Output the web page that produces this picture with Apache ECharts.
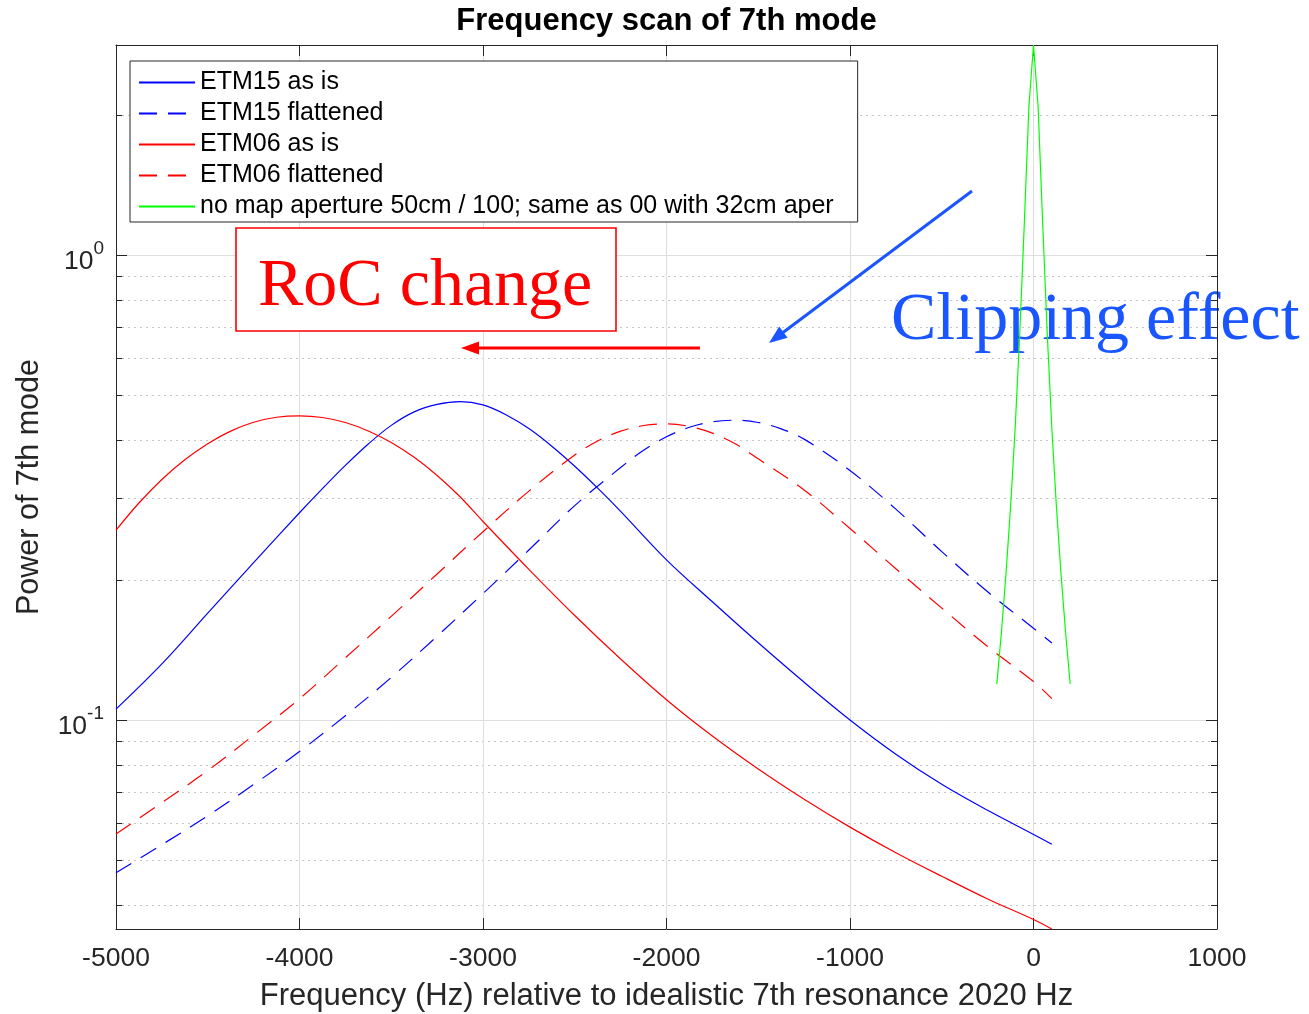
<!DOCTYPE html>
<html>
<head>
<meta charset="utf-8">
<title>Frequency scan of 7th mode</title>
<script src="https://cdn.jsdelivr.net/npm/echarts@6/dist/echarts.min.js"></script>
<style>
  html, body { margin: 0; padding: 0; background: #fff; }
  #chart { width: 1309px; height: 1014px; }
</style>
</head>
<body>
<div id="chart"></div>
<script>
// Frequency offsets (Hz) relative to the idealistic 7th resonance at 2020 Hz,
// with the power of the 7th mode at each offset, one pair of arrays per map.
const etm15AsIsHz = [-5000, -4750, -4500, -4250, -4000, -3875, -3750, -3625, -3500, -3375, -3250, -3125, -3000,
                     -2875, -2750, -2625, -2500, -2375, -2250, -2000, -1750, -1500, -1250, -1000, -750, -500, -250, 0, 100];
const etm15AsIs   = [0.1055, 0.132, 0.1697, 0.218, 0.279, 0.3144, 0.3528, 0.3923, 0.4301, 0.4599, 0.4772, 0.4838, 0.476,
                     0.4534, 0.4233, 0.3879, 0.3512, 0.3151, 0.281, 0.221, 0.1795, 0.1465, 0.1205, 0.1, 0.0844, 0.0727, 0.0639, 0.0567, 0.054];

const etm15FlatHz = [-5000, -4750, -4500, -4250, -4000, -3750, -3500, -3250, -3000, -2750, -2500, -2250,
                     -2125, -2000, -1875, -1750, -1625, -1500, -1375, -1250, -1000, -750, -500, -250, 0, 100];
const etm15Flat   = [0.0469, 0.0539, 0.0622, 0.0726, 0.0855, 0.1021, 0.1234, 0.1514, 0.187, 0.232, 0.289, 0.349,
                     0.3803, 0.4065, 0.4261, 0.4377, 0.4412, 0.4362, 0.4228, 0.4018, 0.344, 0.284, 0.2302, 0.1886, 0.1575, 0.1464];

const etm06AsIsHz = [-5000, -4875, -4750, -4625, -4500, -4375, -4250, -4125, -4000, -3875, -3750, -3625, -3500,
                     -3375, -3250, -3125, -3000, -2750, -2500, -2250, -2000, -1750, -1500, -1250, -1000, -750, -500, -250, 0, 100];
const etm06AsIs   = [0.256, 0.2928, 0.329, 0.3628, 0.3929, 0.418, 0.4367, 0.4477, 0.451, 0.4472, 0.4362, 0.4184, 0.3952,
                     0.3671, 0.3356, 0.302, 0.2672, 0.2108, 0.1677, 0.1352, 0.1105, 0.0923, 0.0784, 0.0675, 0.0588, 0.0518, 0.0461, 0.0412, 0.0372, 0.0355];

const etm06FlatHz = [-5000, -4750, -4500, -4250, -4000, -3750, -3500, -3250, -3000, -2750, -2500, -2375, -2250,
                     -2125, -2000, -1875, -1750, -1625, -1500, -1250, -1000, -750, -500, -250, 0, 100];
const etm06Flat   = [0.0568, 0.0664, 0.0778, 0.0927, 0.111, 0.136, 0.167, 0.206, 0.254, 0.3105, 0.3715, 0.3981, 0.4179,
                     0.4298, 0.4332, 0.4278, 0.414, 0.3925, 0.3645, 0.3124, 0.258, 0.2114, 0.174, 0.1438, 0.1209, 0.1111];

// Reference case without map (aperture only), sampled around the resonance
const noMapHz    = [-200, -175, -150, -125, -100, -75, -50, -25, 0, 25, 50, 75, 100, 125, 150, 175, 200];
const noMapPower = [0.1195, 0.154, 0.206, 0.287, 0.424, 0.676, 1.171, 2.09, 2.83, 2.09,
                    1.171, 0.676, 0.424, 0.287, 0.206, 0.154, 0.1195];

// Axis ticks
const xTickStep = 1000;
const xRange = [-5000, 1000];
const yMajorTicks = [0.1, 1];
const yMinorTicks = [0.04, 0.05, 0.06, 0.07, 0.08, 0.09, 0.2, 0.3, 0.4, 0.5, 0.6, 0.7, 0.8, 0.9, 2];

const seriesNames = [
  'ETM15 as is',
  'ETM15 flattened',
  'ETM06 as is',
  'ETM06 flattened',
  'no map aperture 50cm / 100; same as 00 with 32cm aper'
];

const SANS = '"Liberation Sans", Arial, Helvetica, sans-serif';
const SERIF = '"Liberation Serif", "Times New Roman", serif';
const AXIS_COLOR = '#262626';
const GRID_COLOR = '#dedede';
const MINOR_GRID_COLOR = '#c6c6c6';
const BLUE = '#0000ff', RED = '#ff0000', GREEN = '#00ff00';
const NOTE_BLUE = '#1a56ff';
const DASH = [18, 11];

const pairs = (xs, ys) => xs.map((x, i) => [x, ys[i]]);
const allPower = [].concat(etm15AsIs, etm15Flat, etm06AsIs, etm06Flat, noMapPower);
const yMin = Math.min.apply(null, allPower);
const yMax = Math.max.apply(null, allPower);

function powerLabel(v) {
  const e = Math.round(Math.log10(v));
  return '{b|10}{s|' + e + '}';
}

function logAxis(position, extra) {
  return Object.assign({
    type: 'log',
    logBase: 10,
    min: yMin,
    max: yMax,
    position: position,
    axisLine: { show: false, onZero: false },
    axisTick: { show: false },
    axisLabel: { show: false },
    splitLine: { show: false },
    minorTick: { show: false },
    minorSplitLine: { show: false }
  }, extra);
}

function line(name, xs, ys, color, dashed) {
  return {
    name: name,
    type: 'line',
    xAxisIndex: 0,
    yAxisIndex: 0,
    data: pairs(xs, ys),
    symbol: 'none',
    showSymbol: false,
    smooth: 0.35,
    z: 3,
    lineStyle: { color: color, width: 1.2, type: dashed ? DASH : 'solid' },
    itemStyle: { color: color }
  };
}

const chart = echarts.init(document.getElementById('chart'), null, { renderer: 'canvas' });

chart.setOption({
  animation: false,
  backgroundColor: '#fff',
  grid: { left: 116, top: 45, right: 92, bottom: 85, containLabel: false, outerBoundsMode: 'none' },
  xAxis: [
    {
      type: 'value',
      position: 'bottom',
      min: xRange[0], max: xRange[1], interval: xTickStep,
      axisLine: { show: true, onZero: false, lineStyle: { color: AXIS_COLOR, width: 1 } },
      axisTick: { show: true, inside: true, length: 11, lineStyle: { color: AXIS_COLOR, width: 1 } },
      axisLabel: { show: true, margin: 16, fontFamily: SANS, fontSize: 26.5, color: AXIS_COLOR,
                   formatter: v => String(v) },
      splitLine: { show: true, lineStyle: { color: GRID_COLOR, width: 1 } },
      name: 'Frequency (Hz) relative to idealistic 7th resonance 2020 Hz',
      nameLocation: 'middle',
      nameGap: 52,
      nameTextStyle: { fontFamily: SANS, fontSize: 31, color: AXIS_COLOR }
    },
    {
      type: 'value',
      position: 'top',
      min: xRange[0], max: xRange[1], interval: xTickStep,
      axisLine: { show: true, onZero: false, lineStyle: { color: AXIS_COLOR, width: 1 } },
      axisTick: { show: true, inside: true, length: 11, lineStyle: { color: AXIS_COLOR, width: 1 } },
      axisLabel: { show: false },
      splitLine: { show: false }
    }
  ],
  yAxis: [
    logAxis('left', {
      axisLine: { show: true, onZero: false, lineStyle: { color: AXIS_COLOR, width: 1 } },
      axisTick: { show: true, inside: true, length: 11, customValues: yMajorTicks,
                  lineStyle: { color: AXIS_COLOR, width: 1 } },
      axisLabel: {
        show: true, margin: 12, customValues: yMajorTicks,
        formatter: powerLabel,
        rich: {
          b: { fontFamily: SANS, fontSize: 26.5, color: AXIS_COLOR, padding: [14, 0, 0, 0], verticalAlign: 'bottom' },
          s: { fontFamily: SANS, fontSize: 19, color: AXIS_COLOR, padding: [5, 0, 0, 0], verticalAlign: 'top' }
        }
      },
      splitLine: { show: true, lineStyle: { color: GRID_COLOR, width: 1 } },
      name: 'Power of 7th mode',
      nameLocation: 'middle',
      nameGap: 71,
      nameTextStyle: { fontFamily: SANS, fontSize: 30.5, color: AXIS_COLOR }
    }),
    logAxis('right', {
      z: 4,
      axisLine: { show: true, onZero: false, lineStyle: { color: AXIS_COLOR, width: 1 } },
      axisTick: { show: true, inside: true, length: 11, customValues: yMajorTicks,
                  lineStyle: { color: AXIS_COLOR, width: 1 } }
    }),
    logAxis('left', {
      axisTick: { show: true, inside: true, length: 6, customValues: yMinorTicks,
                  lineStyle: { color: AXIS_COLOR, width: 1 } },
      splitLine: { show: true, lineStyle: { color: MINOR_GRID_COLOR, width: 1, type: [2, 4] } }
    }),
    logAxis('right', {
      z: 4,
      axisTick: { show: true, inside: true, length: 6, customValues: yMinorTicks,
                  lineStyle: { color: AXIS_COLOR, width: 1 } }
    })
  ],
  legend: {
    orient: 'vertical',
    left: 130,
    top: 61,
    itemWidth: 56,
    itemHeight: 14,
    itemGap: 6,
    padding: [9, 24, 3, 8],
    backgroundColor: '#fff',
    borderColor: AXIS_COLOR,
    borderWidth: 1,
    borderRadius: 0,
    selectedMode: false,
    itemStyle: { opacity: 0 },
    textStyle: { fontFamily: SANS, fontSize: 25, color: '#000', lineHeight: 25 },
    data: seriesNames
  },
  series: [
    line(seriesNames[0], etm15AsIsHz, etm15AsIs, BLUE, false),
    line(seriesNames[1], etm15FlatHz, etm15Flat, BLUE, true),
    line(seriesNames[2], etm06AsIsHz, etm06AsIs, RED, false),
    line(seriesNames[3], etm06FlatHz, etm06Flat, RED, true),
    {
      name: seriesNames[4],
      type: 'line',
      xAxisIndex: 0,
      yAxisIndex: 0,
      data: pairs(noMapHz, noMapPower),
      symbol: 'none',
      showSymbol: false,
      z: 3,
      lineStyle: { color: GREEN, width: 1.2 },
      itemStyle: { color: GREEN }
    }
  ],
  graphic: [
    {
      type: 'text', z: 10,
      style: { text: 'Frequency scan of 7th mode', x: 666.5, y: 21, align: 'center', verticalAlign: 'middle',
               font: 'bold 31px ' + SANS, fill: '#000' }
    },
    // "RoC change" note with its arrow
    {
      type: 'rect', z: 10,
      shape: { x: 236, y: 228, width: 380, height: 103 },
      style: { fill: '#fff', stroke: RED, lineWidth: 1.6 }
    },
    {
      type: 'text', z: 11,
      style: { text: 'RoC change', x: 258, y: 287, align: 'left', verticalAlign: 'middle',
               font: '68px ' + SERIF, fill: RED }
    },
    {
      type: 'line', z: 10,
      shape: { x1: 700, y1: 348, x2: 476, y2: 348 },
      style: { stroke: RED, lineWidth: 3 }
    },
    {
      type: 'polygon', z: 10,
      shape: { points: [[461, 348], [479, 341.5], [479, 354.5]] },
      style: { fill: RED }
    },
    // "Clipping effect" note with its arrow
    {
      type: 'line', z: 10,
      shape: { x1: 972, y1: 191, x2: 783, y2: 332.5 },
      style: { stroke: NOTE_BLUE, lineWidth: 3 }
    },
    {
      type: 'polygon', z: 10,
      shape: { points: [[769, 343], [787.6, 337.8], [779.2, 326.6]] },
      style: { fill: NOTE_BLUE }
    },
    {
      type: 'text', z: 1,
      style: { text: 'Clipping effect', x: 891, y: 321, align: 'left', verticalAlign: 'middle',
               font: '68px ' + SERIF, fill: NOTE_BLUE }
    }
  ]
});
</script>
</body>
</html>
